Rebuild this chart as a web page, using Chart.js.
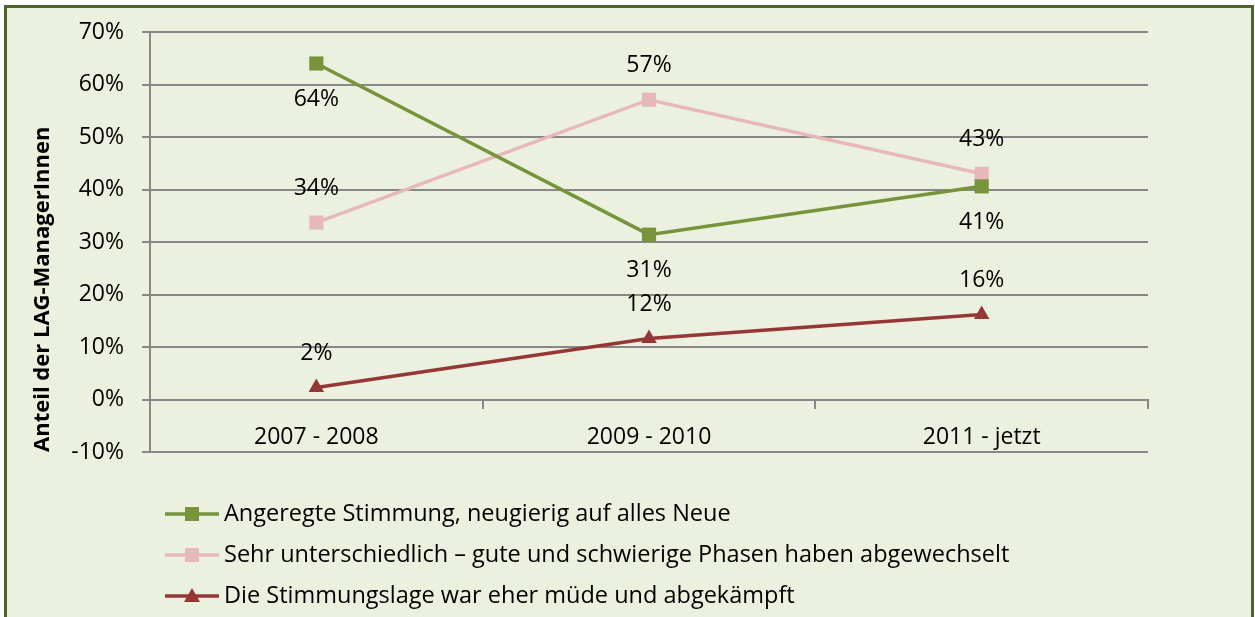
<!DOCTYPE html>
<html>
<head>
<meta charset="utf-8">
<script src="https://cdn.jsdelivr.net/npm/chart.js@4/dist/chart.umd.min.js"></script>
<style>
  html, body { margin: 0; padding: 0; background: #fff; overflow: hidden; }
  #frame { position: absolute; left: 4px; top: 5px; width: 1244px; height: 640px;
           border: 3px solid #4F6228; background: #EBF1DE; }
  #chart { position: absolute; left: 0; top: 0; }
</style>
</head>
<body>
<div id="frame"></div>
<canvas id="chart" width="1255" height="617"></canvas>
<script>
// data (percent)
var categories = ["2007 - 2008", "2009 - 2010", "2011 - jetzt"];
var seriesNames = [
  "Angeregte Stimmung, neugierig auf alles Neue",
  "Sehr unterschiedlich \u2013 gute und schwierige Phasen haben abgewechselt",
  "Die Stimmungslage war eher m\u00fcde und abgek\u00e4mpft"
];
var angeregt = [64, 31.4, 40.6];
var unterschiedlich = [33.7, 57.1, 43];
var muede = [2.3, 11.6, 16.2];
var yTickValues = [-10, 0, 10, 20, 30, 40, 50, 60, 70];

var FONT = "'Open Sans', sans-serif";
var colors = ["#77933C", "#E6B9B8", "#953735"];
var markers = ["rect", "rect", "triangle"];
var labelOffsets = [36, -34, -34];

function marker(ctx, style, x, y, color) {
  ctx.fillStyle = color;
  ctx.beginPath();
  if (style === "triangle") {
    ctx.moveTo(x, y - 8);
    ctx.lineTo(x + 8, y + 6);
    ctx.lineTo(x - 8, y + 6);
    ctx.closePath();
  } else {
    ctx.rect(x - 7, y - 7, 14, 14);
  }
  ctx.fill();
}

var valueLabels = {
  id: "valueLabels",
  afterDatasetsDraw: function(chart) {
    var ctx = chart.ctx;
    ctx.save();
    ctx.font = "23px " + FONT;
    ctx.fillStyle = "#000";
    ctx.textAlign = "center";
    ctx.textBaseline = "middle";
    chart.data.datasets.forEach(function(ds, i) {
      chart.getDatasetMeta(i).data.forEach(function(pt, j) {
        ctx.fillText(Math.round(ds.data[j]) + "%", pt.x, pt.y + labelOffsets[i]);
      });
    });
    ctx.restore();
  }
};

var excelLegend = {
  id: "excelLegend",
  afterDraw: function(chart) {
    var ctx = chart.ctx;
    ctx.save();
    chart.data.datasets.forEach(function(ds, i) {
      var y = 514 + i * 41;
      ctx.strokeStyle = colors[i];
      ctx.lineWidth = 3.5;
      ctx.beginPath();
      ctx.moveTo(165, y);
      ctx.lineTo(219, y);
      ctx.stroke();
      marker(ctx, markers[i], 192, y, colors[i]);
      ctx.fillStyle = "#000";
      ctx.font = "23.5px " + FONT;
      ctx.textAlign = "left";
      ctx.textBaseline = "middle";
      ctx.fillText(ds.label, 224, y);
    });
    ctx.restore();
  }
};

function makeSet(i, values) {
  return {
    label: seriesNames[i],
    data: values,
    borderColor: colors[i],
    backgroundColor: colors[i],
    borderWidth: 3.5,
    pointStyle: markers[i],
    pointRadius: markers[i] === "rect" ? 10 : 9,
    pointBorderWidth: 0,
    tension: 0
  };
}

new Chart(document.getElementById("chart"), {
  type: "line",
  data: {
    labels: categories,
    datasets: [makeSet(0, angeregt), makeSet(1, unterschiedlich), makeSet(2, muede)]
  },
  options: {
    responsive: false,
    animation: false,
    layout: { padding: { left: 0, top: 32, right: 107, bottom: 165 } },
    plugins: { legend: { display: false }, tooltip: { enabled: false } },
    scales: {
      x: {
        position: { y: 0 },
        offset: true,
        grid: { drawOnChartArea: false, drawTicks: true, tickLength: 8, offset: true,
                color: "#888888", lineWidth: 2 },
        border: { color: "#888888", width: 2 },
        ticks: { color: "#000", font: { family: FONT, size: 23 }, padding: 16 }
      },
      y: {
        min: -10,
        max: 70,
        afterBuildTicks: function(scale) {
          scale.ticks = yTickValues.map(function(v) { return { value: v }; });
        },
        afterFit: function(scale) { scale.width = 150; },
        grid: { color: "#888888", lineWidth: 2, tickLength: 8 },
        border: { color: "#888888", width: 2 },
        ticks: {
          color: "#000",
          font: { family: FONT, size: 23 },
          padding: 18,
          callback: function(v) { return v + "%"; }
        },
        title: {
          display: true,
          text: "Anteil der LAG-ManagerInnen",
          align: "start",
          color: "#000",
          font: { family: FONT, size: 22, weight: "bold" },
          padding: { top: 30, bottom: 0 }
        }
      }
    }
  },
  plugins: [valueLabels, excelLegend]
});
</script>
</body>
</html>
